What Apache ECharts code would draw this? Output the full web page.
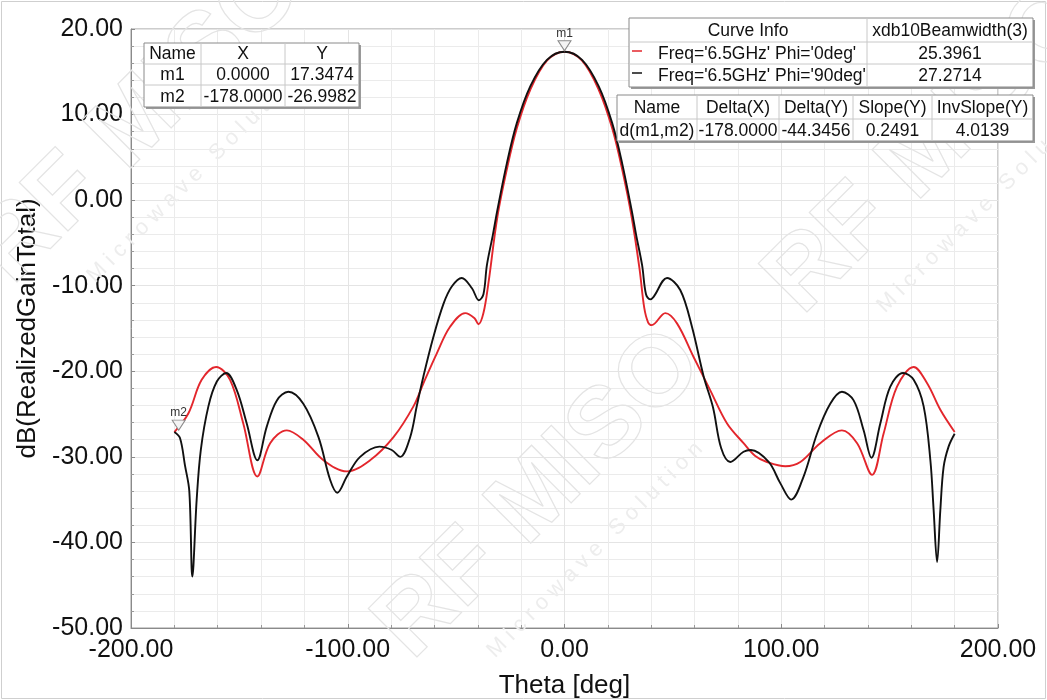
<!DOCTYPE html>
<html>
<head>
<meta charset="utf-8">
<script src="https://cdn.jsdelivr.net/npm/echarts@6/dist/echarts.min.js"></script>
<style>
html,body{margin:0;padding:0;background:#fff;}
#chart{width:1047px;height:700px;}
</style>
</head>
<body>
<div id="chart"></div>
<script>
// ---------- data ----------
const thetaPhi0 = [-180,-173.5,-167.4,-160.7,-154.3,-148.2,-141.7,-135.8,-128.1,-120.5,-111.2,-100.4,-89.7,-78.9,-69.7,-65.1,-58.9,-52.8,-45.8,-41.5,-39.7,-37.4,-35.1,-31.0,-26.6,-22.0,-15.8,-8.1,0,8.1,15.8,22.0,26.6,31.0,34.6,36.8,38.6,40.3,46.5,51.9,59.5,67.2,75.0,82.6,88.0,93.4,101.9,108.8,118.0,128.0,135.0,141.9,147.2,153.4,161.1,167.3,173.4,180];
const gainPhi0  = [-27.1,-24.9,-21.0,-19.5,-21.0,-26.1,-32.3,-28.4,-26.9,-28.0,-30.4,-31.7,-30.4,-27.7,-24.1,-21.4,-17.9,-14.8,-13.2,-13.8,-14.5,-13.2,-9.7,-2.0,3.6,8.4,12.9,16.3,17.35,16.3,12.9,8.4,3.6,-2.0,-8.0,-12.6,-14.3,-14.6,-13.2,-14.4,-18.3,-22.2,-26.1,-28.4,-29.9,-30.6,-31.1,-30.6,-28.4,-26.9,-28.4,-32.1,-27.3,-21.8,-19.5,-21.4,-24.5,-27.1];

const thetaPhi90 = [-180,-177.4,-175.1,-173.1,-171.7,-169.7,-167.8,-164.3,-160.4,-156.1,-151.2,-146.6,-141.7,-137.4,-132.7,-127.4,-120.5,-113.5,-108.1,-104.8,-100.4,-94.3,-85.4,-79.7,-75.8,-71.2,-68.1,-65.1,-60.5,-55.8,-52.0,-47.4,-42.7,-39.5,-37.4,-35.8,-33.0,-31.0,-26.6,-22.0,-15.8,-8.1,0,8.1,15.8,22.0,26.6,31.0,33.0,35.8,37.6,39.5,41.1,47.3,53.4,58.8,64.2,68.5,72.3,76.5,82.6,86.0,94.2,99.6,104.6,110.3,116.5,122.6,128.0,133.4,138.0,141.6,145.7,150.3,156.2,161.1,165.7,168.8,170.3,171.9,173.4,174.9,177.2,180];
const gainPhi90  = [-27.1,-27.8,-31.0,-34.0,-44.0,-35.0,-29.2,-24.1,-21.2,-20.2,-22.2,-26.1,-30.4,-26.5,-23.4,-22.4,-23.8,-27.7,-32.7,-34.2,-32.3,-30.0,-28.8,-29.2,-30.0,-27.7,-24.0,-20.6,-16.0,-12.1,-10.1,-9.1,-10.3,-11.7,-11.0,-7.6,-4.0,-1.2,4.3,9.0,13.3,16.4,17.35,16.4,13.3,9.0,4.3,-1.2,-4.0,-7.6,-11.0,-11.6,-11.3,-9.1,-10.5,-14.8,-20.6,-24.2,-29.0,-30.6,-29.4,-29.2,-30.6,-33.1,-35.0,-32.3,-27.3,-23.8,-22.4,-23.4,-26.9,-30.1,-26.1,-21.8,-20.2,-21.0,-24.1,-30.4,-36.2,-42.3,-36.2,-31.2,-28.8,-27.3];

const xTicks = [-200,-100,0,100,200];
const yTicks = [-50,-40,-30,-20,-10,0,10,20];

const markerNames = ['m1','m2'];
const markerX = [0,-178];
const markerY = [17.3474,-26.9982];

const markerHead = ['Name','X','Y'];
const markerRows = [['m1','0.0000','17.3474'],['m2','-178.0000','-26.9982']];

const curveHead = ['Curve Info','xdb10Beamwidth(3)'];
const curveNames = ["Freq='6.5GHz' Phi='0deg'","Freq='6.5GHz' Phi='90deg'"];
const curveBeam = ['25.3961','27.2714'];

const deltaHead = ['Name','Delta(X)','Delta(Y)','Slope(Y)','InvSlope(Y)'];
const deltaRow = ['d(m1,m2)','-178.0000','-44.3456','0.2491','4.0139'];

// ---------- chart ----------
const FONT = "'Liberation Sans', Arial, sans-serif";
const RED = '#e3262c', BLACK = '#111111';
const chart = echarts.init(document.getElementById('chart'), null, {renderer:'canvas'});

function pairs(xs, ys){ return xs.map((x,i)=>[x, ys[i]]); }

function table(x0, y0, colEdges, rowEdges, cells){
  const els = [];
  const w = colEdges[colEdges.length-1], h = rowEdges[rowEdges.length-1];
  els.push({type:'rect', shape:{x:x0+2,y:y0+2,width:w,height:h}, style:{fill:'#9a9a9a'}, z:100});
  els.push({type:'rect', shape:{x:x0,y:y0,width:w,height:h}, style:{fill:'#fff',stroke:'#8a8a8a',lineWidth:1}, z:101});
  rowEdges.slice(1,-1).forEach(ry=>els.push({type:'line', shape:{x1:x0,y1:y0+ry,x2:x0+w,y2:y0+ry}, style:{stroke:'#c8c8c8',lineWidth:1}, z:102}));
  colEdges.slice(1,-1).forEach(cx=>els.push({type:'line', shape:{x1:x0+cx,y1:y0,x2:x0+cx,y2:y0+h}, style:{stroke:'#c8c8c8',lineWidth:1}, z:102}));
  cells.forEach(cl=>{
    const cxl = colEdges[cl.c], cxr = colEdges[cl.c+1];
    const cy = y0 + (rowEdges[cl.r]+rowEdges[cl.r+1])/2;
    const align = cl.align||'center';
    const tx = align==='left' ? x0+cxl+(cl.pad||4) : x0+(cxl+cxr)/2;
    els.push({type:'text', x:tx, y:cy+1, style:{text:cl.text, font:'17.5px '+FONT, fill:'#111', align:align, verticalAlign:'middle'}, z:103});
  });
  return els;
}

const graphics = [];
// outer frame
graphics.push({type:'rect', shape:{x:1.5,y:1.5,width:1044,height:697}, style:{fill:'none',stroke:'#cfcfcf',lineWidth:1}, z:0});
// faint watermark
function wm(cx, cy, big, small){
  graphics.push({type:'text', x:cx, y:cy, rotation:Math.PI/4, style:{text:'RF MISO', font:'bold '+big+'px '+FONT, fill:'rgba(0,0,0,0)', stroke:'#e4e4e4', lineWidth:1.2, align:'center', verticalAlign:'middle'}, z:1, silent:true});
  graphics.push({type:'text', x:cx+big*0.55, y:cy+big*0.55, rotation:Math.PI/4, style:{text:'M i c r o w a v e   S o l u t i o n', font:small+'px '+FONT, fill:'#ededed', align:'center', verticalAlign:'middle'}, z:1, silent:true});
}
wm(540, 495, 100, 22);
wm(140, 120, 100, 22);
wm(930, 150, 100, 22);

// marker table
const mCells = [];
markerHead.forEach((t,i)=>mCells.push({r:0,c:i,text:t}));
markerRows.forEach((row,r)=>row.forEach((t,i)=>mCells.push({r:r+1,c:i,text:t})));
graphics.push(...table(144, 43, [0,57,141,215], [0,21,42,64], mCells));

// curve info table
const cCells = [{r:0,c:0,text:curveHead[0]},{r:0,c:1,text:curveHead[1]}];
curveNames.forEach((t,i)=>{cCells.push({r:i+1,c:0,text:t,align:'left',pad:29}); cCells.push({r:i+1,c:1,text:curveBeam[i]});});
graphics.push(...table(629, 18, [0,238,404], [0,24,46,69], cCells));
[RED, BLACK].forEach((col,i)=>graphics.push({type:'line', shape:{x1:632,y1:18+24+22*i+9,x2:642,y2:18+24+22*i+9}, style:{stroke:col,lineWidth:1.5}, z:104}));

// delta table
const dCells = [];
deltaHead.forEach((t,i)=>dCells.push({r:0,c:i,text:t}));
deltaRow.forEach((t,i)=>dCells.push({r:1,c:i,text:t}));
graphics.push(...table(617, 95, [0,80,162,236,315,416], [0,24,46], dCells));

const option = {
  backgroundColor:'#fff',
  animation:false,
  grid:{left:131, right:49, top:29, bottom:72, containLabel:false, outerBoundsMode:'none',
        show:true, borderColor:'#9a9a9a', borderWidth:1, backgroundColor:'transparent'},
  xAxis:{
    type:'value', min:xTicks[0], max:xTicks[xTicks.length-1], interval:100,
    name:'Theta [deg]', nameLocation:'middle', nameGap:45,
    nameTextStyle:{fontFamily:FONT, fontSize:26, color:'#111'},
    axisLine:{show:true, onZero:false, lineStyle:{color:'#8a8a8a', width:1}},
    axisTick:{show:true, inside:true, length:4, lineStyle:{color:'#8a8a8a'}},
    minorTick:{show:true, splitNumber:5, length:3, lineStyle:{color:'#9a9a9a'}},
    axisLabel:{fontFamily:FONT, fontSize:25, color:'#111', margin:10, formatter:v=>v.toFixed(2)},
    splitLine:{show:true, lineStyle:{color:'#e4e4e4', width:1}},
    minorSplitLine:{show:true, lineStyle:{color:'#ebebeb', width:1}}
  },
  yAxis:{
    type:'value', min:yTicks[0], max:yTicks[yTicks.length-1], interval:10,
    name:'dB(RealizedGainTotal)', nameLocation:'middle', nameGap:80,
    nameTextStyle:{fontFamily:FONT, fontSize:26, color:'#111'},
    axisLine:{show:true, onZero:false, lineStyle:{color:'#8a8a8a', width:1}},
    axisTick:{show:true, inside:true, length:4, lineStyle:{color:'#8a8a8a'}},
    minorTick:{show:true, splitNumber:5, length:3, lineStyle:{color:'#9a9a9a'}},
    axisLabel:{fontFamily:FONT, fontSize:25, color:'#111', margin:8, formatter:v=>v.toFixed(2)},
    splitLine:{show:true, lineStyle:{color:'#e4e4e4', width:1}},
    minorSplitLine:{show:true, lineStyle:{color:'#ebebeb', width:1}}
  },
  series:[
    {name:curveNames[0], type:'line', data:pairs(thetaPhi0,gainPhi0), smooth:0.35, showSymbol:false, symbol:'none',
     lineStyle:{color:RED, width:1.9}, itemStyle:{color:RED}, z:3},
    {name:curveNames[1], type:'line', data:pairs(thetaPhi90,gainPhi90), smooth:0.35, showSymbol:false, symbol:'none',
     lineStyle:{color:BLACK, width:1.9}, itemStyle:{color:BLACK}, z:4,
     markPoint:{
       symbol:'triangle', symbolRotate:180, symbolSize:[13,10], symbolOffset:[0,-6],
       itemStyle:{color:'#f4f4f4', borderColor:'#8a8a8a', borderWidth:1},
       label:{show:true, position:'top', distance:1, fontFamily:FONT, fontSize:12, color:'#333', formatter:p=>p.name},
       data:markerNames.map((n,i)=>({name:n, coord:[markerX[i], markerY[i]]}))
     }}
  ],
  graphic:graphics
};
chart.setOption(option);
</script>
</body>
</html>
